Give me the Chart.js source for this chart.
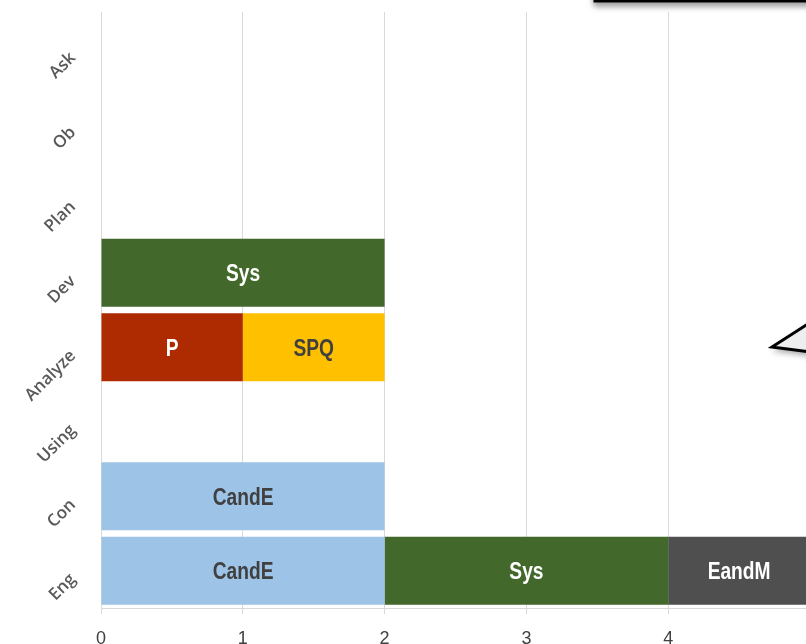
<!DOCTYPE html>
<html lang="en">
  <head>
    <meta charset="UTF-8" />
    <title>Activity chart</title>
    <script src="https://cdn.jsdelivr.net/npm/chart.js"></script>
    <style>
      body {
        margin: 0;
        overflow: hidden;
        background: #fff;
      }
      #wrap {
        width: 830px;
        height: 644px;
      }
    </style>
  </head>
  <body>
    <div id="wrap"><canvas id="chart" width="830" height="644"></canvas></div>

    <script>
      const categories = ["Ask", "Ob", "Plan", "Dev", "Analyze", "Using", "Con", "Eng"];
      const candE = [null, null, null, null, null, null, 2, 2];
      const sys = [null, null, null, 2, null, null, null, 2];
      const p = [null, null, null, null, 1, null, null, null];
      const spq = [null, null, null, null, 1, null, null, null];
      const eandM = [null, null, null, null, null, null, null, 1];
      const xTicks = [0, 1, 2, 3, 4, 5];

      // writes the series name in the middle of each bar, squeezed to look condensed
      const barLabels = {
        id: "barLabels",
        afterDatasetsDraw(chart) {
          const ctx = chart.ctx;
          const squeeze = 0.8;
          ctx.save();
          ctx.font = "bold 24px 'Liberation Sans', Arial, sans-serif";
          ctx.textAlign = "center";
          ctx.textBaseline = "middle";
          chart.data.datasets.forEach((ds, i) => {
            chart.getDatasetMeta(i).data.forEach((bar, j) => {
              if (ds.data[j] == null) return;
              const x = (bar.x + bar.base) / 2;
              ctx.save();
              ctx.translate(x, bar.y + 2);
              ctx.scale(squeeze, 1);
              ctx.fillStyle = ds.labelColor;
              ctx.fillText(ds.label, 0, 0);
              ctx.restore();
            });
          });
          ctx.restore();
        },
      };

      // the pieces of the call-out shapes that sit on top of the slide
      const callouts = {
        id: "callouts",
        afterDraw(chart) {
          const ctx = chart.ctx;
          ctx.save();
          ctx.shadowColor = "rgba(0,0,0,0.35)";
          ctx.shadowBlur = 6;
          ctx.shadowOffsetY = 4;
          ctx.fillStyle = "#ffffff";
          ctx.strokeStyle = "#000000";
          ctx.lineWidth = 3;
          ctx.beginPath();
          ctx.rect(595, -20, 260, 21);
          ctx.fill();
          ctx.stroke();

          ctx.fillStyle = "#eeeeee";
          ctx.beginPath();
          ctx.moveTo(850, 297);
          ctx.lineTo(772, 347);
          ctx.lineTo(850, 357);
          ctx.closePath();
          ctx.fill();
          ctx.shadowColor = "transparent";
          ctx.beginPath();
          ctx.moveTo(850, 297);
          ctx.lineTo(772, 347);
          ctx.lineTo(850, 357);
          ctx.stroke();
          ctx.restore();
        },
      };

      new Chart(document.getElementById("chart"), {
        type: "bar",
        data: {
          labels: categories,
          datasets: [
            { label: "CandE", data: candE, backgroundColor: "#9DC3E6", labelColor: "#404040" },
            { label: "Sys", data: sys, backgroundColor: "#43682B", labelColor: "#ffffff" },
            { label: "P", data: p, backgroundColor: "#AE2A00", labelColor: "#ffffff" },
            { label: "SPQ", data: spq, backgroundColor: "#FFC000", labelColor: "#404040" },
            { label: "EandM", data: eandM, backgroundColor: "#4F4F4F", labelColor: "#ffffff" },
          ],
        },
        options: {
          indexAxis: "y",
          responsive: false,
          animation: false,
          layout: { padding: { top: 12, right: 20, left: 0, bottom: 0 } },
          datasets: {
            bar: {
              barPercentage: 0.91,
              categoryPercentage: 1,
              borderWidth: 0,
            },
          },
          plugins: {
            legend: { display: false },
            tooltip: { enabled: false },
          },
          scales: {
            x: {
              stacked: true,
              min: 0,
              max: 5,
              afterBuildTicks(axis) {
                axis.ticks = xTicks.map((v) => ({ value: v }));
              },
              afterFit(axis) {
                axis.height = 36;
              },
              grid: {
                color: "#d9d9d9",
                tickLength: 6,
                drawTicks: true,
              },
              border: { color: "#d9d9d9" },
              ticks: {
                color: "#404040",
                padding: 14,
                maxRotation: 0,
                font: { family: "'Liberation Sans', Arial, sans-serif", size: 18 },
              },
            },
            y: {
              stacked: true,
              afterFit(axis) {
                axis.width = 101;
                axis.paddingTop = 0;
                axis.paddingBottom = 0;
              },
              grid: { display: false },
              border: { color: "#d9d9d9" },
              ticks: {
                color: "#595959",
                minRotation: 45,
                maxRotation: 45,
                padding: 20,
                labelOffset: 6,
                font: { family: "'Open Sans', sans-serif", size: 17, weight: "600" },
              },
            },
          },
        },
        plugins: [barLabels, callouts],
      });
    </script>
  </body>
</html>
